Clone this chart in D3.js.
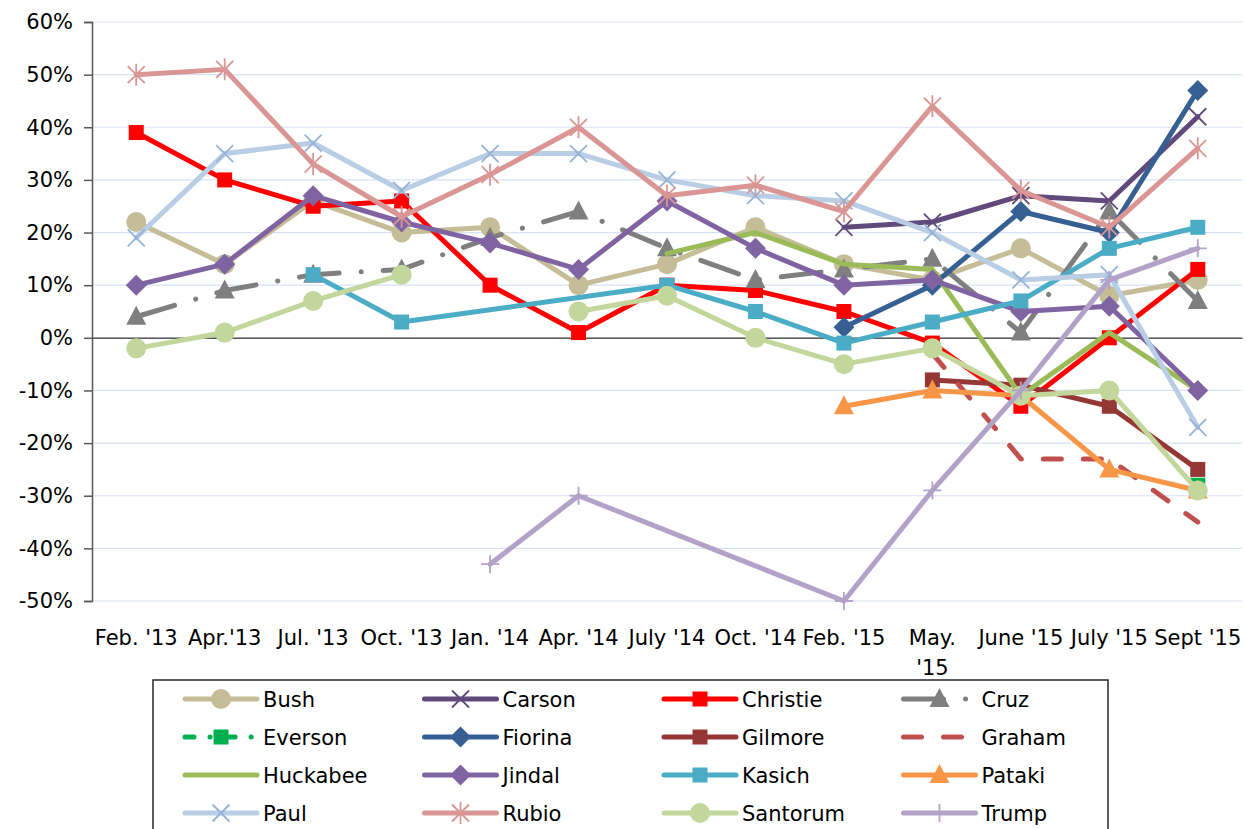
<!DOCTYPE html>
<html>
<head>
<meta charset="utf-8">
<script src="https://cdn.jsdelivr.net/npm/d3@7"></script>
<style>
  body { margin: 0; background: #fff; }
  svg { display: block; font-family: "DejaVu Sans", sans-serif; }
</style>
</head>
<body>
<div id="chart"></div>
<script>
// categorías (eje x)
const categories = ["Feb. '13", "Apr.'13", "Jul. '13", "Oct. '13", "Jan. '14", "Apr. '14",
  "July '14", "Oct. '14", "Feb. '15", "May. '15", "June '15", "July '15", "Sept '15"];

// etiquetas del eje x tal como se ven (May. '15 va en dos líneas)
const tickLabels = [["Feb. '13"], ["Apr.'13"], ["Jul. '13"], ["Oct. '13"], ["Jan. '14"], ["Apr. '14"],
  ["July '14"], ["Oct. '14"], ["Feb. '15"], ["May.", "'15"], ["June '15"], ["July '15"], ["Sept '15"]];

// ticks del eje y (en %)
const yTicks = [-50, -40, -30, -20, -10, 0, 10, 20, 30, 40, 50, 60];

// valores por candidato (%), null = sin dato
const bush     = [22, 14, 26, 20, 21, 10, 14, 21, 14, 11, 17, 8, 11];
const carson   = [null, null, null, null, null, null, null, null, 21, 22, 27, 26, 42];
const christie = [39, 30, 25, 26, 10, 1, 10, 9, 5, -1, -13, 0, 13];
const cruz     = [4, 9, 12, 13, 19, 24, 17, 11, 13, 15, 1, 24, 7];
const everson  = [null, null, null, null, null, null, null, null, null, null, null, null, -28];
const fiorina  = [null, null, null, null, null, null, null, null, 2, 10, 24, 20, 47];
const gilmore  = [null, null, null, null, null, null, null, null, null, -8, -9, -13, -25];
const graham   = [null, null, null, null, null, null, null, null, null, -3, -23, -23, -35];
const huckabee = [null, null, null, null, null, null, 16, 20, 14, 13, -11, 1, -10];
const jindal   = [10, 14, 27, 22, 18, 13, 26, 17, 10, 11, 5, 6, -10];
const kasich   = [null, null, 12, 3, null, null, 10, 5, -1, 3, 7, 17, 21];
const pataki   = [null, null, null, null, null, null, null, null, -13, -10, -11, -25, -29];
const paul     = [19, 35, 37, 28, 35, 35, 30, 27, 26, 20, 11, 12, -17];
const rubio    = [50, 51, 33, 23, 31, 40, 27, 29, 24, 44, 28, 21, 36];
const santorum = [-2, 1, 7, 12, null, 5, 8, 0, -5, -2, -11, -10, -29];
const trump    = [null, null, null, null, -43, -30, null, null, -50, -29, -10, 11, 17];

// configuración de series (orden de dibujo = orden de leyenda)
const series = [
  { name: 'Bush',     values: bush,     color: '#C4BD97', marker: 'circle' },
  { name: 'Carson',   values: carson,   color: '#604A7B', marker: 'x' },
  { name: 'Christie', values: christie, color: '#FF0000', marker: 'square' },
  { name: 'Cruz',     values: cruz,     color: '#7F7F7F', marker: 'triangle', dash: '40 22 0.1 22' },
  { name: 'Everson',  values: everson,  color: '#00B050', marker: 'square', dash: '9 16 0.1 16' },
  { name: 'Fiorina',  values: fiorina,  color: '#376092', marker: 'diamond' },
  { name: 'Gilmore',  values: gilmore,  color: '#953735', marker: 'square' },
  { name: 'Graham',   values: graham,   color: '#C0504D', marker: 'none', dash: '18 22' },
  { name: 'Huckabee', values: huckabee, color: '#9BBB59', marker: 'none' },
  { name: 'Jindal',   values: jindal,   color: '#8064A2', marker: 'diamond' },
  { name: 'Kasich',   values: kasich,   color: '#4BACC6', marker: 'square', span: true },
  { name: 'Pataki',   values: pataki,   color: '#F79646', marker: 'triangle' },
  { name: 'Paul',     values: paul,     color: '#B9CDE5', marker: 'x', markerColor: '#95B3D7' },
  { name: 'Rubio',    values: rubio,    color: '#D99694', marker: 'asterisk' },
  { name: 'Santorum', values: santorum, color: '#C3D69B', marker: 'circle' },
  { name: 'Trump',    values: trump,    color: '#B3A2C7', marker: 'plus', span: true }
];

const width = 1246, height = 829;
const plot = { left: 92, right: 1242, top: 22, bottom: 601 };

const svg = d3.select('#chart').append('svg')
  .attr('width', width)
  .attr('height', height);

svg.append('rect').attr('width', width).attr('height', height).attr('fill', '#fff');

const x = d3.scalePoint()
  .domain(categories)
  .range([plot.left, plot.right])
  .padding(0.5);

const y = d3.scaleLinear()
  .domain([-50, 60])
  .range([plot.bottom, plot.top]);

// líneas de cuadrícula
svg.append('g')
  .selectAll('line')
  .data(yTicks)
  .enter()
  .append('line')
  .attr('x1', plot.left)
  .attr('x2', plot.right)
  .attr('y1', d => y(d))
  .attr('y2', d => y(d))
  .attr('stroke', '#D9E2F3')
  .attr('stroke-width', 1.2);

// eje y
const yAxis = svg.append('g')
  .attr('transform', `translate(${plot.left},0)`)
  .call(d3.axisLeft(y).tickValues(yTicks).tickSize(8).tickPadding(11).tickFormat(d => d + '%'));
yAxis.select('.domain').attr('stroke', '#595959').attr('stroke-width', 1.5);
yAxis.selectAll('.tick line').attr('stroke', '#595959').attr('stroke-width', 1.5);
yAxis.selectAll('.tick text')
  .attr('font-size', 21)
  .attr('fill', '#000')
  .style('font-family', '"DejaVu Sans", sans-serif');

// eje x en 0%
const xAxis = svg.append('g')
  .attr('transform', `translate(0,${y(0)})`)
  .call(d3.axisBottom(x).tickSize(0).tickFormat(''));
xAxis.select('.domain').attr('stroke', '#595959').attr('stroke-width', 1.5);

// etiquetas de categoría
svg.append('g')
  .selectAll('text')
  .data(categories)
  .enter()
  .append('text')
  .attr('x', d => x(d))
  .attr('y', 645)
  .attr('text-anchor', 'middle')
  .attr('font-size', 21)
  .attr('fill', '#000')
  .each(function(d, i) {
    const t = d3.select(this);
    tickLabels[i].forEach((p, j) => {
      t.append('tspan').attr('x', x(d)).attr('dy', j === 0 ? 0 : 30).text(p);
    });
  });

// dibujar marcador
function drawMarker(g, type, cx, cy, color) {
  if (type === 'circle') {
    g.append('circle').attr('cx', cx).attr('cy', cy).attr('r', 10).attr('fill', color);
  } else if (type === 'square') {
    g.append('rect').attr('x', cx - 7.5).attr('y', cy - 7.5).attr('width', 15).attr('height', 15).attr('fill', color);
  } else if (type === 'diamond') {
    g.append('path').attr('d', `M${cx},${cy - 10.5}L${cx + 10.5},${cy}L${cx},${cy + 10.5}L${cx - 10.5},${cy}Z`).attr('fill', color);
  } else if (type === 'triangle') {
    g.append('path').attr('d', `M${cx},${cy - 11}L${cx + 10},${cy + 8}L${cx - 10},${cy + 8}Z`).attr('fill', color);
  } else if (type === 'x' || type === 'asterisk') {
    const s = 8.5;
    g.append('path')
      .attr('d', `M${cx - s},${cy - s}L${cx + s},${cy + s}M${cx - s},${cy + s}L${cx + s},${cy - s}` +
        (type === 'asterisk' ? `M${cx},${cy - 11}L${cx},${cy + 11}` : ''))
      .attr('stroke', color).attr('stroke-width', 1.8).attr('fill', 'none');
  } else if (type === 'plus') {
    const s = 9;
    g.append('path')
      .attr('d', `M${cx - s},${cy}L${cx + s},${cy}M${cx},${cy - s}L${cx},${cy + s}`)
      .attr('stroke', color).attr('stroke-width', 1.8).attr('fill', 'none');
  }
}

const line = d3.line()
  .defined(d => d.v !== null)
  .x(d => x(d.c))
  .y(d => y(d.v));

const seriesG = svg.append('g');

series.forEach(s => {
  let pts = s.values.map((v, i) => ({ c: categories[i], v }));
  if (s.span) pts = pts.filter(p => p.v !== null);
  const g = seriesG.append('g');
  g.append('path')
    .datum(pts)
    .attr('d', line)
    .attr('fill', 'none')
    .attr('stroke', s.color)
    .attr('stroke-width', 5)
    .attr('stroke-linejoin', 'round')
    .attr('stroke-linecap', 'round')
    .attr('stroke-dasharray', s.dash || null);
  pts.filter(p => p.v !== null).forEach(p => {
    drawMarker(g, s.marker, x(p.c), y(p.v), s.markerColor || s.color);
  });
});

// leyenda
const legend = svg.append('g');
legend.append('rect')
  .attr('x', 153)
  .attr('y', 680)
  .attr('width', 955)
  .attr('height', 170)
  .attr('fill', '#fff')
  .attr('stroke', '#262626')
  .attr('stroke-width', 1.5);

series.forEach((s, i) => {
  const col = i % 4, row = Math.floor(i / 4);
  const lx = 185 + col * 239.5;
  const ly = 699 + row * 38;
  const g = legend.append('g');
  g.append('line')
    .attr('x1', lx).attr('x2', lx + 72)
    .attr('y1', ly).attr('y2', ly)
    .attr('stroke', s.color)
    .attr('stroke-width', 5)
    .attr('stroke-linecap', 'round')
    .attr('stroke-dasharray', s.dash || null);
  drawMarker(g, s.marker, lx + 36, ly, s.markerColor || s.color);
  g.append('text')
    .attr('x', lx + 78)
    .attr('y', ly + 8)
    .attr('font-size', 21)
    .attr('fill', '#000')
    .text(s.name);
});
</script>
</body>
</html>
